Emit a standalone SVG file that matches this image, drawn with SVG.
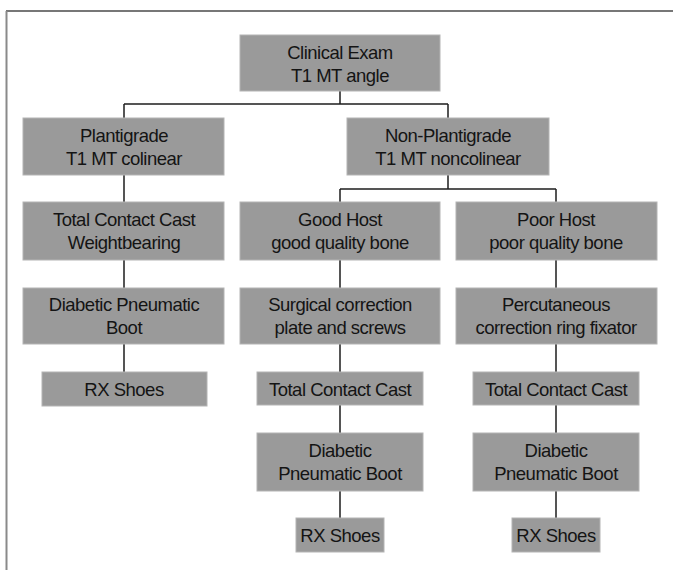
<svg xmlns="http://www.w3.org/2000/svg" width="673" height="570" viewBox="0 0 673 570">
<style>
.b{fill:#9a9a9a;stroke:#b4b4b4;stroke-width:1}
.t{font-family:"Liberation Sans",Arial,sans-serif;font-size:18.5px;letter-spacing:-0.5px;fill:#141414;text-anchor:middle}
.c{stroke:#1e1e1e;stroke-width:1.5;fill:none}
</style>
<rect width="673" height="570" fill="#ffffff"/>
<g id="frame">
<line x1="6" y1="11" x2="673" y2="11" stroke="#4a4a4a" stroke-width="1.5"/>
<line x1="6.5" y1="11" x2="6.5" y2="570" stroke="#8a8a8a" stroke-width="2"/>
</g>
<g id="connectors" class="c">
<path d="M340 91V104M124 104H448M124 104V118M448 104V118"/>
<path d="M448 175V189M340 189H556M340 189V202M556 189V202"/>
<path d="M124 175V202M124 260V288M124 344V372"/>
<path d="M340 260V288M340 344V372M340 405V433M340 491V518"/>
<path d="M556 260V288M556 344V372M556 405V433M556 491V518"/>
</g>
<g id="n1"><rect class="b" x="240" y="35" width="200" height="56"/><text class="t" x="340" y="59">Clinical Exam</text><text class="t" x="340" y="82">T1 MT angle</text></g>
<g id="n2"><rect class="b" x="23" y="118" width="201" height="57"/><text class="t" x="124" y="142">Plantigrade</text><text class="t" x="124" y="165">T1 MT colinear</text></g>
<g id="n3"><rect class="b" x="347" y="118" width="202" height="57"/><text class="t" x="448" y="142">Non-Plantigrade</text><text class="t" x="448" y="165">T1 MT noncolinear</text></g>
<g id="n4"><rect class="b" x="23" y="202" width="201" height="58"/><text class="t" x="124" y="226">Total Contact Cast</text><text class="t" x="124" y="249">Weightbearing</text></g>
<g id="n5"><rect class="b" x="240" y="202" width="200" height="58"/><text class="t" x="340" y="226">Good Host</text><text class="t" x="340" y="249">good quality bone</text></g>
<g id="n6"><rect class="b" x="456" y="202" width="201" height="58"/><text class="t" x="556" y="226">Poor Host</text><text class="t" x="556" y="249">poor quality bone</text></g>
<g id="n7"><rect class="b" x="23" y="288" width="201" height="56"/><text class="t" x="124" y="311">Diabetic Pneumatic</text><text class="t" x="124" y="334">Boot</text></g>
<g id="n8"><rect class="b" x="240" y="288" width="200" height="56"/><text class="t" x="340" y="311">Surgical correction</text><text class="t" x="340" y="334">plate and screws</text></g>
<g id="n9"><rect class="b" x="456" y="288" width="201" height="56"/><text class="t" x="556" y="311">Percutaneous</text><text class="t" x="556" y="334">correction ring fixator</text></g>
<g id="n10"><rect class="b" x="42" y="372" width="165" height="34"/><text class="t" x="124" y="396">RX Shoes</text></g>
<g id="n11"><rect class="b" x="257" y="372" width="166" height="33"/><text class="t" x="340" y="396">Total Contact Cast</text></g>
<g id="n12"><rect class="b" x="473" y="372" width="166" height="33"/><text class="t" x="556" y="396">Total Contact Cast</text></g>
<g id="n13"><rect class="b" x="257" y="433" width="166" height="58"/><text class="t" x="340" y="457">Diabetic</text><text class="t" x="340" y="480">Pneumatic Boot</text></g>
<g id="n14"><rect class="b" x="473" y="433" width="166" height="58"/><text class="t" x="556" y="457">Diabetic</text><text class="t" x="556" y="480">Pneumatic Boot</text></g>
<g id="n15"><rect class="b" x="296" y="518" width="88" height="34"/><text class="t" x="340" y="542">RX Shoes</text></g>
<g id="n16"><rect class="b" x="512" y="518" width="88" height="34"/><text class="t" x="556" y="542">RX Shoes</text></g>
</svg>
